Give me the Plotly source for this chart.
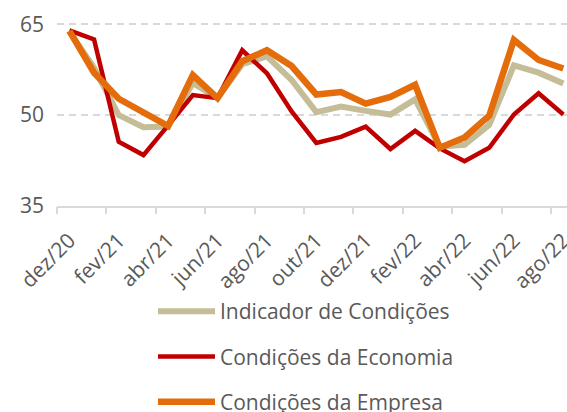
import plotly.graph_objects as go

months = ['dez/20', 'jan/21', 'fev/21', 'mar/21', 'abr/21', 'mai/21', 'jun/21',
          'jul/21', 'ago/21', 'set/21', 'out/21', 'nov/21', 'dez/21', 'jan/22',
          'fev/22', 'mar/22', 'abr/22', 'mai/22', 'jun/22', 'jul/22', 'ago/22']

indicador = [63.8, 57.8, 50.0, 48.0, 48.1, 55.3, 52.8, 58.4, 59.7, 55.8, 50.5,
             51.4, 50.7, 50.1, 52.6, 44.8, 45.1, 48.4, 58.2, 57.0, 55.2]
economia = [64.0, 62.5, 45.6, 43.4, 48.3, 53.3, 52.8, 60.7, 56.9, 50.6, 45.4,
            46.4, 48.1, 44.4, 47.4, 44.5, 42.4, 44.6, 50.1, 53.6, 50.1]
empresa = [63.9, 57.0, 52.7, 50.3, 48.2, 56.6, 52.8, 58.9, 60.7, 58.1, 53.4,
           53.8, 51.9, 53.0, 55.0, 44.6, 46.3, 49.9, 62.4, 59.1, 57.7]

series_names = ['Indicador de Condições', 'Condições da Economia', 'Condições da Empresa']
y_ticks = [35, 50, 65]

x = list(range(len(months)))
label_pos = x[::2]
label_text = months[::2]
boundaries = [i - 0.5 for i in label_pos]

colors = ['#C4BD97', '#C00000', '#E46C0A']
widths = [6, 4.5, 6.5]
FONT = 'Open Sans'
TXT = '#595959'

fig = go.Figure()
for name, vals, c, w in zip(series_names, [indicador, economia, empresa], colors, widths):
    fig.add_trace(go.Scatter(x=x, y=vals, mode='lines', name=name,
                             line=dict(color=c, width=w), legendgroup=name))

# invisible trace on overlay axis for boundary tick marks
fig.add_trace(go.Scatter(x=[boundaries[0]], y=[y_ticks[0]], xaxis='x2', mode='lines',
                         showlegend=False, hoverinfo='skip', line=dict(width=0)))

xr = [-0.5, 20.15]
fig.update_layout(
    width=567, height=412,
    margin=dict(l=57, r=0, t=23, b=206, autoexpand=False),
    paper_bgcolor='white', plot_bgcolor='white',
    font=dict(family=FONT, size=21, color=TXT),
    xaxis=dict(range=xr, tickmode='array', tickvals=label_pos, ticktext=label_text,
               tickangle=-45, showgrid=False, zeroline=False, ticks='',
               showline=True, linecolor='#D9D9D9', linewidth=2, automargin=False,
               tickfont=dict(family=FONT, size=21, color=TXT),
               ticklabelstandoff=12, ticklabeloverflow='allow'),
    xaxis2=dict(range=xr, overlaying='x', tickmode='array', tickvals=boundaries,
                ticks='outside', ticklen=7, tickcolor='#D9D9D9', tickwidth=2,
                showticklabels=False, showgrid=False, zeroline=False, showline=False,
                automargin=False),
    yaxis=dict(range=[35, 65.2], tickmode='array', tickvals=y_ticks,
               showgrid=True, gridcolor='#D9D9D9', gridwidth=2, griddash='7px,5px',
               zeroline=False, ticks='', showline=False, automargin=False,
               tickfont=dict(family=FONT, size=21, color=TXT), ticklabelstandoff=12),
    legend=dict(orientation='v', x=(153 - 57) / 510, xanchor='left',
                y=-0.465, yanchor='top', font=dict(family=FONT, size=21, color=TXT),
                itemwidth=57, tracegroupgap=15, bgcolor='rgba(0,0,0,0)'),
    showlegend=True,
)

fig.write_html('out.html')
